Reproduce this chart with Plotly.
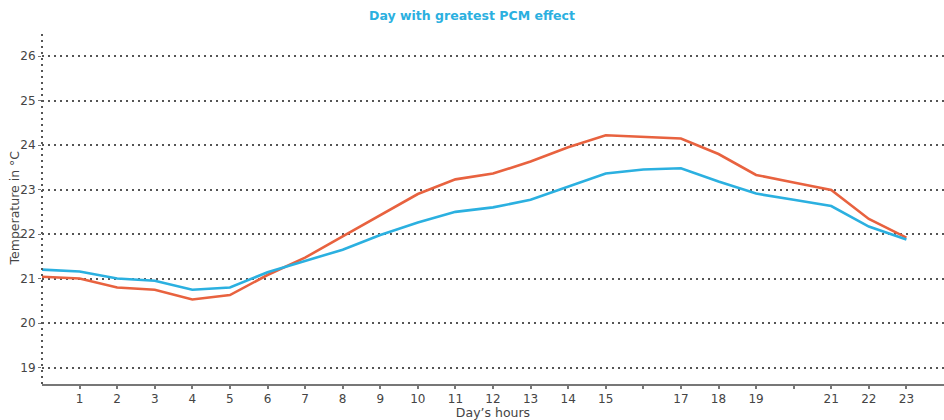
import plotly.graph_objects as go

hours = list(range(0, 24))
red_series = [21.04, 21.0, 20.8, 20.75, 20.53, 20.63, 21.08, 21.47, 21.95, 22.42, 22.9, 23.23,
              23.36, 23.63, 23.95, 24.22, 24.19, 24.15, 23.8, 23.33, 23.16, 22.99, 22.34, 21.92]
blue_series = [21.2, 21.16, 21.0, 20.95, 20.75, 20.8, 21.14, 21.39, 21.65, 21.98, 22.26, 22.5,
               22.6, 22.77, 23.07, 23.36, 23.45, 23.48, 23.18, 22.91, 22.77, 22.63, 22.17, 21.88]
x_tickvals = list(range(1, 24))
x_ticktext = ["" if v in (16, 20) else str(v) for v in x_tickvals]
y_tickvals = [19, 20, 21, 22, 23, 24, 25, 26]

RED = "#E8623F"
BLUE = "#2BB0E0"

fig = go.Figure()
fig.add_trace(go.Scatter(x=hours, y=red_series, mode="lines",
                         line=dict(color=RED, width=2.6), showlegend=False))
fig.add_trace(go.Scatter(x=hours, y=blue_series, mode="lines",
                         line=dict(color=BLUE, width=2.6), showlegend=False))

fig.add_shape(type="line", xref="paper", yref="paper", x0=0, x1=0, y0=0, y1=1,
              line=dict(color="#555", width=2, dash="2px,4px"))

fig.add_annotation(text="Temperature in °C", textangle=-90, xref="paper", yref="paper",
                   x=(14 - 42) / 902, y=0.5, xanchor="center", yanchor="middle",
                   showarrow=False, font=dict(family="DejaVu Sans", size=12.5, color="#444"))

fig.update_layout(
    width=944, height=420,
    margin=dict(l=42, r=0, t=33, b=36),
    paper_bgcolor="white", plot_bgcolor="white",
    font=dict(family="DejaVu Sans", size=12, color="#444"),
    title=dict(text="<b>Day with greatest PCM effect</b>", x=0.5, xanchor="center",
               y=0.974, yanchor="top",
               font=dict(family="DejaVu Sans", size=12.5, color=BLUE)),
    xaxis=dict(range=[0, 24], tickvals=x_tickvals, ticktext=x_ticktext,
               showgrid=False, zeroline=False, showline=True, linecolor="#777", linewidth=2,
               ticks="outside", ticklen=3, tickcolor="#777", tickwidth=1.5,
               tickfont=dict(size=12, color="#444"),
               title=dict(text="Day’s hours", font=dict(size=12.5, color="#444"), standoff=0)),
    yaxis=dict(range=[18.63, 26.52], tickvals=y_tickvals,
               showgrid=True, gridcolor="#555", gridwidth=1.6, griddash="2px,4px",
               zeroline=False, showline=False,
               ticks="outside", ticklen=3, tickcolor="#777",
               tickfont=dict(size=12, color="#444")),
)

fig.write_html("out.html")
